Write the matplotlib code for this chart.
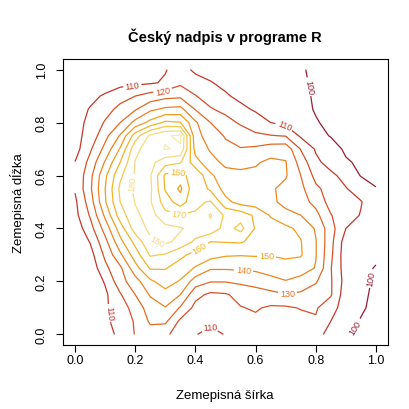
import matplotlib
matplotlib.use("Agg")
import matplotlib.pyplot as plt

plt.rcParams["font.family"] = ["Liberation Sans", "DejaVu Sans"]

# grid coordinates (x = zemepisna sirka, y = zemepisna dlzka)
sirka = [0.0, 0.05, 0.1, 0.15, 0.2, 0.25, 0.3, 0.35, 0.4, 0.45, 0.5,
         0.55, 0.6, 0.65, 0.7, 0.75, 0.8, 0.85, 0.9, 0.95, 1.0]
dlzka = [0.0, 0.05, 0.1, 0.15, 0.2, 0.25, 0.3, 0.35, 0.4, 0.45, 0.5,
         0.55, 0.6, 0.65, 0.7, 0.75, 0.8, 0.85, 0.9, 0.95, 1.0]

# elevation, one row per dlzka value (bottom to top)
vyska = [
    [100, 101, 106, 112.5, 120.5, 126, 122, 115, 110.5, 107, 110.5, 114, 115, 115, 114, 114, 113, 107, 101, 98, 96],
    [102, 103, 108, 114, 121, 131.5, 132, 118, 114, 112, 113, 116, 118, 117, 116, 117, 119, 110, 104, 99.5, 97],
    [103, 104, 108.5, 115, 124, 135, 139.5, 129, 117, 115, 116, 119.5, 121, 118.5, 118.5, 120.5, 121, 114, 105, 101, 98],
    [102, 103, 108, 119, 130, 141, 146, 140, 123, 118, 119, 123, 125, 127, 129.5, 128, 125, 121, 104, 101, 99],
    [101, 102, 111, 126, 136, 148, 155, 149, 135, 130.5, 130.5, 132, 134, 137, 139.5, 137, 131, 121, 106, 102, 99],
    [101, 103, 117.5, 128, 146, 161, 160.5, 156, 149, 141, 141, 141.5, 142, 144, 145.5, 144, 139.5, 120.5, 105, 102, 99.5],
    [101, 106, 122, 138, 155, 171, 169, 162, 157, 154, 151, 150.5, 151, 150.5, 152, 151, 140.5, 122, 104, 102.5, 101.5],
    [102, 110.5, 127, 147, 163, 178.5, 182, 177, 168, 160, 160.5, 161, 157, 155, 153, 150.5, 140.5, 123, 105, 103, 102],
    [104, 116, 134, 155, 175, 182, 183, 181, 176, 177, 166, 173, 159, 155, 152, 148, 139, 124, 110, 107, 103],
    [107, 121, 142, 165, 178, 184, 173, 170.5, 171, 181, 168, 166, 158, 149, 144, 140, 133, 120.5, 114, 109.5, 104],
    [108, 125, 149, 170, 180.5, 181, 165, 155, 168, 171, 153, 146, 145, 143, 136, 134, 127, 116, 113, 110.5, 104],
    [111, 128, 150, 172, 182, 182, 159, 148, 168, 158, 146, 144, 143, 141.5, 137, 132.5, 122, 116, 110.5, 106, 100.5],
    [111, 127, 148, 168, 181, 181, 158, 155, 168, 152, 143, 142, 142, 141, 141, 130, 117, 112, 107, 99.5, 97],
    [110.2, 123, 141, 160, 180.5, 183, 174, 171, 154, 143, 138, 137.5, 139, 142, 140.5, 126, 112, 106.5, 101, 98.5, 97],
    [106, 118.5, 133, 151, 177, 186, 190.5, 189, 146, 139, 133, 130.5, 132, 135.5, 136.5, 119.5, 109, 104, 98.5, 97, 96],
    [107, 113.5, 127, 141, 165, 182, 189, 191.5, 143, 136, 129, 126, 122, 120.5, 119.5, 108.5, 103, 99.5, 98, 97, 96],
    [107, 112, 121, 130, 143, 153, 162, 160.5, 141.5, 130, 124, 118.5, 114, 110, 107, 104, 100.5, 98.5, 97.5, 97, 96],
    [106.5, 110.5, 116, 123, 129, 138, 142, 143, 129.5, 121, 117, 112, 109, 106, 104, 102, 99.5, 98, 97, 96, 96],
    [106, 108, 111, 116, 120, 124, 127, 128, 120.5, 115, 111, 108, 106, 104, 103, 101, 99.5, 98, 97, 96, 96],
    [104, 105, 106, 107, 108, 109, 111, 118, 114, 110.5, 108, 106, 105, 104, 103, 101, 99, 98, 97, 96, 96],
    [103, 104, 105, 106, 107, 108, 109.5, 114, 108, 107, 106, 105, 104, 103, 102, 100.5, 99, 98, 97, 96.5, 96],
]

urovne = [100, 110, 120, 130, 140, 150, 160, 170, 180, 190]
farby = ["#9b1b30", "#c4362a", "#d84f27", "#e56822", "#ee821e",
         "#f39b1c", "#f5b222", "#f6c74a", "#f7da80", "#f9e9b0"]

# where the contour labels sit in the original
popisky = {
    100: [(0.772, 0.934), (0.99, 0.21), (0.93, 0.03)],
    110: [(0.19, 0.943), (0.698, 0.80), (0.11, 0.08), (0.45, 0.025)],
    120: [(0.29, 0.93)],
    130: [(0.705, 0.16)],
    140: [(0.56, 0.24)],
    150: [(0.637, 0.29)],
    160: [(0.343, 0.6), (0.415, 0.325)],
    170: [(0.343, 0.447)],
    180: [(0.205, 0.568), (0.267, 0.337)],
}

W, H = 409, 410
fig = plt.figure(figsize=(W / 100, H / 100), dpi=100)
ax = fig.add_axes([63 / W, 1 - 346 / H, (388 - 63) / W, (346 - 60) / H])
ax.set_xlim(-0.04, 1.04)
ax.set_ylim(-0.04, 1.04)

# one contour set per level so each level can get its own label spots
for level, farba in zip(urovne, farby):
    cs = ax.contour(sirka, dlzka, vyska, levels=[level], colors=[farba],
                    linewidths=0.9)
    if level in popisky:
        cs.clabel(manual=popisky[level], inline=True, inline_spacing=2,
                  fontsize=6.5, fmt="%d")

ticks = [0.0, 0.2, 0.4, 0.6, 0.8, 1.0]
ax.set_xticks(ticks)
ax.set_yticks(ticks)
ax.set_xticklabels([f"{t:.1f}" for t in ticks])
ax.set_yticklabels([f"{t:.1f}" for t in ticks], rotation=90, va="center")
ax.tick_params(axis="both", direction="out", length=5, width=0.8,
               labelsize=9, colors="black")
ax.tick_params(axis="x", pad=1.5)
ax.tick_params(axis="y", pad=6)
for sp in ax.spines.values():
    sp.set_linewidth(0.8)

fig.text(225 / W, 1 - 37 / H, "Český nadpis v programe R", ha="center",
         va="center", fontsize=10.5, fontweight="bold")
fig.text(225 / W, 1 - 396 / H, "Zemepisná šírka", ha="center", va="center",
         fontsize=9.5)
fig.text(18 / W, 1 - 203 / H, "Zemepisná dĺžka", ha="center", va="center",
         fontsize=9.5, rotation=90)

fig.savefig("out.png", dpi=100)
